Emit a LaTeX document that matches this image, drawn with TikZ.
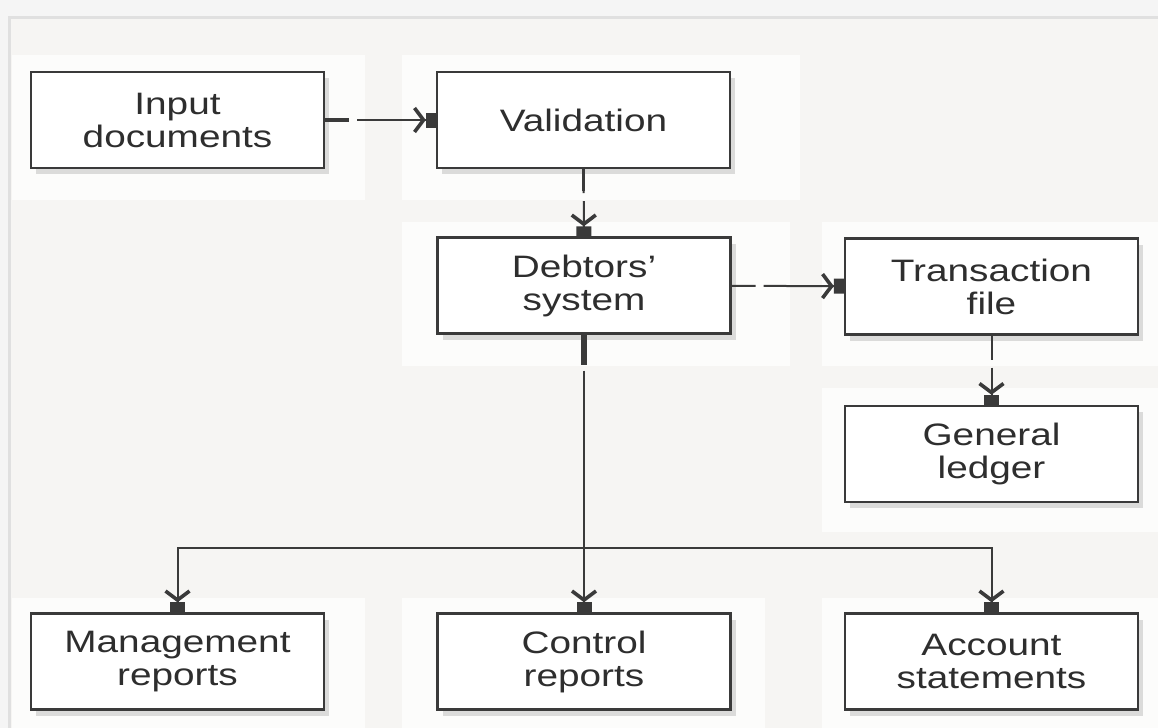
\documentclass[tikz,border=0pt]{standalone}
\usepackage{fontspec}
\setmainfont{Liberation Sans}
\newfontfamily\boxfont[FakeStretch=1.25]{Liberation Sans}
\usetikzlibrary{arrows.meta,shadows}
\definecolor{bgc}{HTML}{F6F5F3}
\definecolor{panelc}{HTML}{FCFCFB}
\definecolor{txt}{HTML}{2E2E2E}
\definecolor{edge}{HTML}{3A3A3A}
\tikzset{
  box/.style={draw=edge, line width=1.2pt, fill=white, minimum width=146.5pt, minimum height=48pt,
    align=center, text=txt, font=\boxfont\fontsize{15.5}{16.5}\selectfont,
    drop shadow={shadow xshift=2.5pt, shadow yshift=-3pt, opacity=0.22, fill=black!60}},
  tipend/.style={-{Straight Barb[length=4.5pt,width=12pt,line width=1.8pt] Square[length=5pt,width=7.5pt]}},
  conn/.style={draw=edge, line width=1pt, tipend, dash pattern=on 12pt off 4pt on 2000pt},
  solidconn/.style={draw=edge, line width=1pt, tipend},
  stub/.style={draw=edge, line width=2.2pt},
  panel/.style={fill=panelc, draw=none}
}
\begin{document}
\begin{tikzpicture}[x=0.5pt, y=-0.5pt]
\useasboundingbox (0,0) rectangle (1158,728);
% background
\fill[white!96!black] (0,0) rectangle (1158,728);
\fill[bgc] (9,17) rectangle (1158,728);
\draw[black!12, line width=1.5pt] (9,728) -- (9,17) -- (1158,17);
% panels
\fill[panel] (12,55) rectangle (365,200);
\fill[panel] (402,55) rectangle (800,200);
\fill[panel] (402,222) rectangle (790,366);
\fill[panel] (822,222) rectangle (1158,366);
\fill[panel] (822,388) rectangle (1158,532);
\fill[panel] (12,598) rectangle (365,728);
\fill[panel] (402,598) rectangle (765,728);
\fill[panel] (822,598) rectangle (1158,728);
% boxes
\node[box] (inp) at (177.5,120) {Input\\documents};
\node[box] (val) at (583.5,120) {Validation};
\node[box] (deb) at (584,285.5) {Debtors’\\system};
\node[box] (trn) at (991.5,286.5) {Transaction\\file};
\node[box] (gl) at (991.5,454) {General\\ledger};
\node[box] (mgmt) at (177.5,661.5) {Management\\reports};
\node[box] (ctl) at (584,661.5) {Control\\reports};
\node[box] (acct) at (991.5,661.5) {Account\\statements};
\coordinate (J) at (584,548);
% connectors
\draw[conn] (inp) -- (val);
\draw[stub] (inp.east) -- ++(24,0);
\draw[conn] (val) -- (deb);
\draw[stub, line width=1.6pt] (val.south) -- ++(0,22);
\draw[conn] (deb) -- (trn);
\draw[conn] (trn) -- (gl);
\draw[conn, dash pattern=on 15pt off 3pt on 2000pt] (deb) -- (ctl);
\draw[stub, line width=2.6pt] (deb.south) -- ++(0,30);
\draw[solidconn] (J) -| (mgmt);
\draw[solidconn] (J) -| (acct);
\end{tikzpicture}
\end{document}
